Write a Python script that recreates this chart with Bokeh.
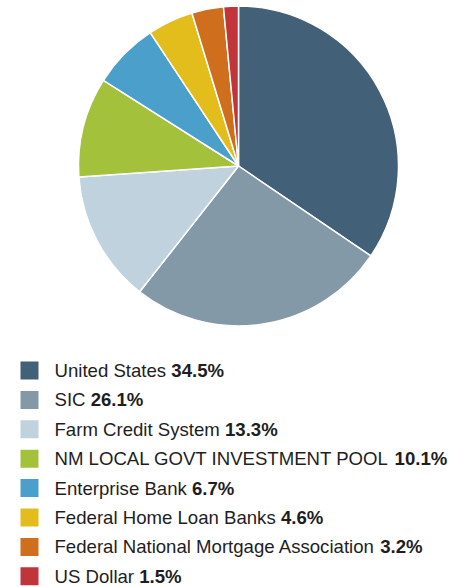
import numpy as np
from bokeh.plotting import figure
from bokeh.models import Range1d, ColumnDataSource
from bokeh.core.properties import value
from bokeh.embed import file_html
from bokeh.resources import INLINE

labels = ["United States", "SIC", "Farm Credit System", "NM LOCAL GOVT INVESTMENT POOL",
          "Enterprise Bank", "Federal Home Loan Banks", "Federal National Mortgage Association",
          "US Dollar"]
values = [34.5, 26.1, 13.3, 10.1, 6.7, 4.6, 3.2, 1.5]
colors = ["#426077", "#8399a8", "#bfd2de", "#a3c13a", "#4b9fcb", "#e2bd1c", "#cf6e1c", "#c0343a"]

# Arial / Liberation Sans advance widths (1/1000 em)
W = {' ': 278, '%': 889, '.': 278, 'A': 667, 'B': 667, 'C': 722, 'D': 722, 'E': 667, 'F': 611,
     'G': 778, 'H': 722, 'I': 278, 'L': 556, 'M': 833, 'N': 722, 'O': 778, 'P': 667, 'S': 667,
     'T': 611, 'U': 722, 'V': 667, 'a': 556, 'b': 556, 'c': 500, 'd': 556, 'e': 556, 'g': 556,
     'h': 556, 'i': 222, 'k': 500, 'l': 222, 'm': 833, 'n': 556, 'o': 556, 'p': 556, 'r': 333,
     's': 500, 't': 278, 'u': 556, 'y': 500}
for dch in "0123456789":
    W[dch] = 556

def tw(s, size):
    return sum(W.get(c, 556) for c in s) * size / 1000.0

FS = 18.6
W_PX, H_PX = 455, 587

p = figure(width=W_PX, height=H_PX, output_backend="svg", toolbar_location=None,
           x_range=Range1d(0, W_PX), y_range=Range1d(-H_PX, 0), min_border=0,
           outline_line_color=None)
p.axis.visible = False
p.grid.visible = False
p.background_fill_color = "white"
p.border_fill_color = "white"

# pie
vals = np.array(values)
frac = vals / vals.sum()
cum = np.concatenate([[0], np.cumsum(frac)])
start = np.pi / 2 - cum[:-1] * 2 * np.pi
end = np.pi / 2 - cum[1:] * 2 * np.pi
cx, cy, r = 238, -165.5, 160
pie_src = ColumnDataSource(dict(start=end, end=start, color=colors))
p.wedge(x=cx, y=cy, radius=r, start_angle="start", end_angle="end", fill_color="color",
        line_color="white", line_width=1.5, source=pie_src)

# legend
ys = [-(370 + i * 29.4) for i in range(len(labels))]
pct = [f"{v:.1f}%" for v in values]
bold_x = [54 + tw(l + " ", FS) for l in labels]
leg = ColumnDataSource(dict(y=ys, color=colors, label=labels, pct=pct, bx=bold_x))
p.rect(x=29, y="y", width=18, height=18, fill_color="color", line_color=None, source=leg)
p.text(x=54, y="y", text="label", text_font=value("Liberation Sans"), text_font_size=f"{FS}px",
       text_baseline="middle", text_color="#1e1e1e", source=leg)
p.text(x="bx", y="y", text="pct", text_font=value("Liberation Sans"), text_font_size=f"{FS}px",
       text_font_style="bold", text_baseline="middle", text_color="#1e1e1e", source=leg)

open("out.html", "w").write(file_html(p, INLINE))
